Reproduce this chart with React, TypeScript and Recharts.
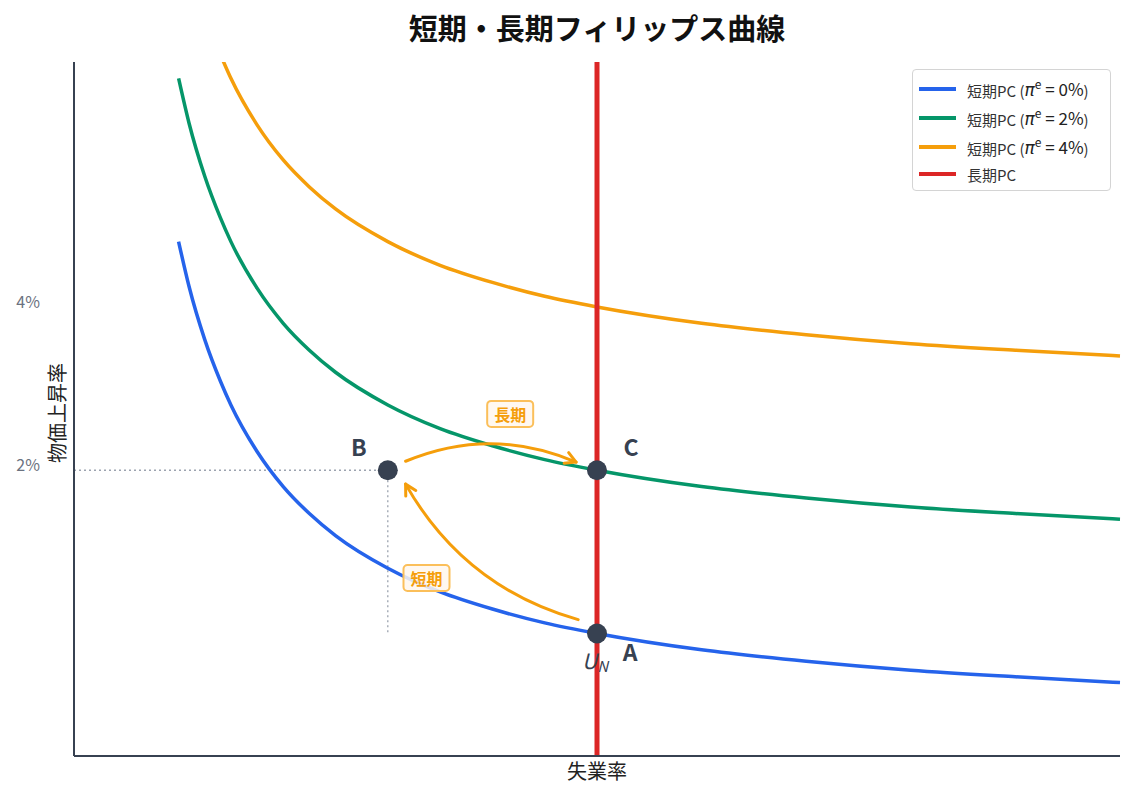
import { LineChart, Line, XAxis, YAxis, ReferenceLine, ReferenceDot } from "recharts";

// unemployment rate (x) and inflation (y, %)
const uValues = [1, 1.1, 1.25, 1.4, 1.5, 1.75, 2, 2.25, 2.5, 3, 3.5, 4, 4.5, 5, 6, 7, 8, 9, 10];
const pc0 = [4.8, 4.25, 3.6, 3.09, 2.8, 2.23, 1.8, 1.47, 1.2, 0.8, 0.51, 0.3, 0.13, 0, -0.2, -0.34, -0.45, -0.53, -0.6];
const pc2 = [6.8, 6.25, 5.6, 5.09, 4.8, 4.23, 3.8, 3.47, 3.2, 2.8, 2.51, 2.3, 2.13, 2, 1.8, 1.66, 1.55, 1.47, 1.4];
const pc4 = [null, null, null, 7.09, 6.8, 6.23, 5.8, 5.47, 5.2, 4.8, 4.51, 4.3, 4.13, 4, 3.8, 3.66, 3.55, 3.47, 3.4];
const naturalRate = 5;
const yTicks = [2, 4];

const points = [
  { name: "A", x: 5, y: 0, dx: 33, dy: 17 },
  { name: "B", x: 3, y: 2, dx: -29, dy: -24 },
  { name: "C", x: 5, y: 2, dx: 34, dy: -24 },
];

const arrows = [
  { from: { x: 3.17, y: 2.11 }, to: { x: 4.8, y: 2.1 }, bend: -36 },
  { from: { x: 4.82, y: 0.17 }, to: { x: 3.17, y: 1.83 }, bend: -45 },
];

const tags = [
  { text: "長期", x: 4.17, y: 2.69 },
  { text: "短期", x: 3.37, y: 0.68 },
];

const data = uValues.map((u, i) => ({ u, pc0: pc0[i], pc2: pc2[i], pc4: pc4[i] }));

const BLUE = "#2563eb";
const GREEN = "#059669";
const ORANGE = "#f59e0b";
const RED = "#dc2626";
const DARK = "#374151";
const FONT = "'Noto Sans CJK JP', 'Noto Sans', sans-serif";

const legendItems = [
  { color: BLUE, label: "0%" },
  { color: GREEN, label: "2%" },
  { color: ORANGE, label: "4%" },
  { color: RED, label: null },
];

function LegendBox() {
  return (
    <div
      style={{
        position: "absolute",
        left: 912,
        top: 69,
        background: "#fff",
        border: "1px solid #d4d4d4",
        borderRadius: 4,
        padding: "4px 6px 3px 6px",
        width: 185,
        fontFamily: FONT,
        fontSize: 15,
        color: "#333",
        boxSizing: "content-box",
      }}
    >
      {legendItems.map((it, i) => (
        <div key={i} style={{ display: "flex", alignItems: "center", height: i === 3 ? 26 : 29, whiteSpace: "nowrap" }}>
          <span style={{ display: "inline-block", width: 37, height: 4, background: it.color, marginRight: 11 }} />
          {it.label ? (
            <span>
              短期PC (
              <span style={{ fontSize: 17, color: "#222" }}>
                <i style={{ fontFamily: "'DejaVu Sans', sans-serif", fontSize: 17 }}>π</i>
                <sup style={{ fontSize: 12 }}>e</sup> = {it.label}
              </span>
              )
            </span>
          ) : (
            <span>長期PC</span>
          )}
        </div>
      ))}
    </div>
  );
}

function CurvedArrow(props: any) {
  const { x1, y1, x2, y2, bend } = props;
  const mx = (x1 + x2) / 2;
  const my = (y1 + y2) / 2;
  const dx = x2 - x1;
  const dy = y2 - y1;
  const len = Math.hypot(dx, dy) || 1;
  const cx = mx + (bend * -dy) / len;
  const cy = my + (bend * dx) / len;
  const ang = Math.atan2(y2 - cy, x2 - cx);
  const h = 12;
  const a1 = ang + Math.PI - 0.5;
  const a2 = ang + Math.PI + 0.5;
  return (
    <g>
      <path d={`M${x1},${y1} Q${cx},${cy} ${x2},${y2}`} fill="none" stroke={ORANGE} strokeWidth={3} strokeLinecap="round" />
      <path
        d={`M${x2 + h * Math.cos(a1)},${y2 + h * Math.sin(a1)} L${x2},${y2} L${x2 + h * Math.cos(a2)},${y2 + h * Math.sin(a2)}`}
        fill="none"
        stroke={ORANGE}
        strokeWidth={3}
        strokeLinecap="round"
        strokeLinejoin="round"
      />
    </g>
  );
}

export default function App() {
  return (
    <div style={{ position: "absolute", left: 0, top: 0, width: 1134, height: 800, fontFamily: FONT, background: "#fff" }}>
      <div
        style={{
          position: "absolute",
          left: 74,
          width: 1046,
          top: 6,
          textAlign: "center",
          fontSize: 29,
          fontWeight: 700,
          color: "#111",
          zIndex: 2,
        }}
      >
        短期・長期フィリップス曲線
      </div>
      <LineChart width={1134} height={800} data={data} margin={{ top: 62, right: 14, left: 14, bottom: 0 }}>
        <XAxis
          dataKey="u"
          type="number"
          domain={[0, 10]}
          tick={false}
          tickLine={false}
          height={44}
          axisLine={{ stroke: DARK, strokeWidth: 2 }}
          label={{ value: "失業率", position: "insideTop", offset: 9, fill: "#222", fontSize: 20 }}
        />
        <YAxis
          type="number"
          domain={[-1.5, 7]}
          allowDataOverflow
          ticks={yTicks}
          width={60}
          tickLine={false}
          axisLine={{ stroke: DARK, strokeWidth: 2 }}
          tick={(p: any) => (
            <text x={40} y={p.y - 6} textAnchor="end" dominantBaseline="central" fill="#6b7280" fontSize={16}>
              {p.payload.value}%
            </text>
          )}
          label={{
            content: () => (
              <text x={56} y={413} transform="rotate(-90 56 413)" textAnchor="middle" dominantBaseline="central" fill="#222" fontSize={20}>
                物価上昇率
              </text>
            ),
          }}
        />
        <ReferenceLine
          segment={[{ x: 0, y: 2 }, { x: 3, y: 2 }]}
          stroke="#9ca3af"
          strokeWidth={1.3}
          strokeDasharray="2 3"
        />
        <ReferenceLine
          segment={[{ x: 3, y: 2 }, { x: 3, y: 0 }]}
          stroke="#9ca3af"
          strokeWidth={1.3}
          strokeDasharray="2 3"
        />
        <Line dataKey="pc0" name="pc0" stroke={BLUE} strokeWidth={3.5} dot={false} type="monotone" isAnimationActive={false} />
        <Line dataKey="pc2" name="pc2" stroke={GREEN} strokeWidth={3.5} dot={false} type="monotone" isAnimationActive={false} />
        <Line dataKey="pc4" name="pc4" stroke={ORANGE} strokeWidth={3.5} dot={false} type="monotone" isAnimationActive={false} />
        <ReferenceLine x={naturalRate} stroke={RED} strokeWidth={5} />
        {arrows.map((a, i) => (
          <ReferenceLine
            key={"arr" + i}
            segment={[a.from, a.to]}
            shape={(p: any) => <CurvedArrow {...p} bend={a.bend} />}
          />
        ))}
        {tags.map((t) => (
          <ReferenceDot
            key={t.text}
            x={t.x}
            y={t.y}
            r={0}
            shape={(p: any) => (
              <g>
                <rect x={p.cx - 23} y={p.cy - 13} width={46} height={26} rx={4} fill="#fff7ed" fillOpacity={0.85} stroke="#fbbf5a" strokeWidth={2} />
                <text x={p.cx} y={p.cy} textAnchor="middle" dominantBaseline="central" fill={ORANGE} fontSize={16} fontWeight={700}>
                  {t.text}
                </text>
              </g>
            )}
          />
        ))}
        {points.map((pt) => (
          <ReferenceDot
            key={pt.name}
            x={pt.x}
            y={pt.y}
            r={10}
            shape={(p: any) => (
              <g>
                <circle cx={p.cx} cy={p.cy} r={10} fill={DARK} />
                <text x={p.cx + pt.dx} y={p.cy + pt.dy} textAnchor="middle" dominantBaseline="central" fill={DARK} fontSize={23} fontWeight={700}>
                  {pt.name}
                </text>
              </g>
            )}
          />
        ))}
        <ReferenceDot
          x={naturalRate}
          y={-0.32}
          r={0}
          shape={(p: any) => (
            <text x={p.cx - 2} y={p.cy} textAnchor="middle" dominantBaseline="central" fill={DARK} fontSize={21} fontStyle="italic">
              U<tspan fontSize={15} dy={5}>N</tspan>
            </text>
          )}
        />
      </LineChart>
      <LegendBox />
    </div>
  );
}
